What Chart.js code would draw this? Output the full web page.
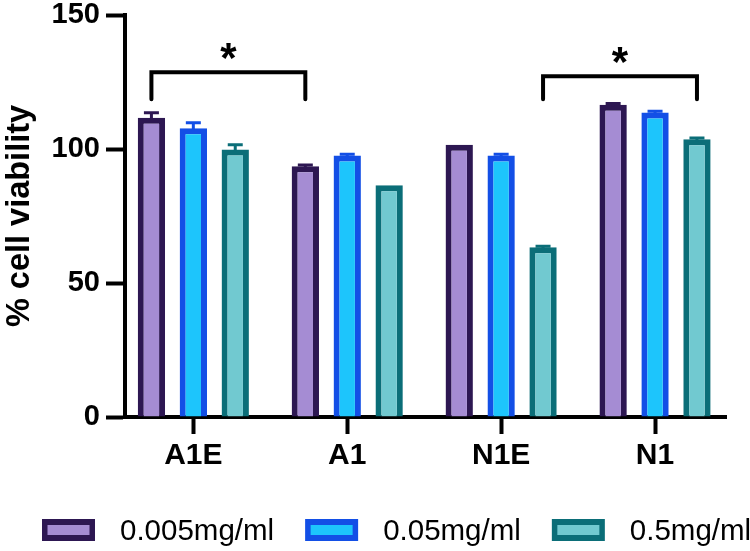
<!DOCTYPE html>
<html><head><meta charset="utf-8">
<script src="https://cdn.jsdelivr.net/npm/chart.js@4.4.1/dist/chart.umd.min.js"></script>
<style>html,body{margin:0;padding:0;background:#fff}#wrap{width:750px;height:551px}</style>
</head><body><div id="wrap"><canvas id="c" width="750" height="551"></canvas></div>
<script>
const categories = ['A1E', 'A1', 'N1E', 'N1'];
const seriesNames = ['0.005mg/ml', '0.05mg/ml', '0.5mg/ml'];
const viability005 = [111.7, 93.6, 101.6, 116.5];
const viability05 = [107.7, 97.6, 97.6, 113.6];
const viability5 = [99.8, 86.5, 63.3, 103.6];
const error005 = [1.8, 0.4, 0, 0.5];
const error05 = [2.1, 0.4, 0.4, 0.5];
const error5 = [1.8, 0, 0.4, 0.5];
const yTicks = [0, 50, 100, 150];
// significance brackets: [datasetIndex, categoryIndex]
const comparisons = [
  { from: [0, 0], to: [0, 1], level: 128.6, drop: 118.6, mark: '*', markLevel: 137.5 },
  { from: [2, 2], to: [2, 3], level: 127.1, drop: 118.6, mark: '*', markLevel: 136.2 }
];

const fills = ['#A58CD3', '#1DC5FC', '#71C9D0'];
const borders = ['#2D1752', '#134FE6', '#0B6E78'];
const seriesValues = [viability005, viability05, viability5];
const seriesErrors = [error005, error05, error5];
const FONT = "'Liberation Sans', Arial, Helvetica, sans-serif";
Chart.defaults.font.family = FONT;
Chart.defaults.color = '#000';

const errorBars = {
  id: 'errorBars',
  afterDatasetsDraw(chart) {
    const ctx = chart.ctx, ys = chart.scales.y;
    chart.data.datasets.forEach((ds, di) => {
      const meta = chart.getDatasetMeta(di);
      meta.data.forEach((el, i) => {
        const e = seriesErrors[di][i];
        if (!e) return;
        const top = ys.getPixelForValue(seriesValues[di][i] + e);
        ctx.save();
        ctx.strokeStyle = borders[di];
        ctx.lineWidth = 3;
        ctx.beginPath();
        ctx.moveTo(el.x, el.y + 2);
        ctx.lineTo(el.x, top);
        ctx.moveTo(el.x - 7.5, top);
        ctx.lineTo(el.x + 7.5, top);
        ctx.stroke();
        ctx.restore();
      });
    });
  }
};

const brackets = {
  id: 'brackets',
  afterDraw(chart) {
    const ctx = chart.ctx, ys = chart.scales.y;
    comparisons.forEach(c => {
      const x1 = chart.getDatasetMeta(c.from[0]).data[c.from[1]].x;
      const x2 = chart.getDatasetMeta(c.to[0]).data[c.to[1]].x;
      const yl = ys.getPixelForValue(c.level), yd = ys.getPixelForValue(c.drop);
      ctx.save();
      ctx.strokeStyle = '#000';
      ctx.lineWidth = 4;
      ctx.lineCap = 'round';
      ctx.lineJoin = 'miter';
      ctx.beginPath();
      ctx.moveTo(x1, yd); ctx.lineTo(x1, yl); ctx.lineTo(x2, yl); ctx.lineTo(x2, yd);
      ctx.stroke();
      const fs = 42;
      ctx.font = 'bold ' + fs + 'px ' + FONT;
      ctx.fillStyle = '#000';
      ctx.textAlign = 'center';
      ctx.textBaseline = 'alphabetic';
      ctx.fillText(c.mark, (x1 + x2) / 2, ys.getPixelForValue(c.markLevel) + fs * 0.56);
      ctx.restore();
    });
  }
};

const customLegend = {
  id: 'customLegend',
  afterDraw(chart) {
    const ctx = chart.ctx;
    const fs = 29.5;
    ctx.save();
    ctx.font = fs + 'px ' + FONT;
    ctx.textBaseline = 'alphabetic';
    ctx.textAlign = 'left';
    let x = 42;
    const top = 519, bw = 53, bh = 22;
    chart.data.datasets.forEach((ds, i) => {
      ctx.fillStyle = ds.borderColor;
      ctx.fillRect(x, top, bw, bh);
      ctx.fillStyle = ds.backgroundColor;
      ctx.fillRect(x + 5.5, top + 6, bw - 11, bh - 12);
      const tx = x + bw + 25;
      ctx.fillStyle = '#000';
      ctx.fillText(ds.label, tx, 539.5);
      x = tx + ctx.measureText(ds.label).width + 31;
    });
    ctx.restore();
  }
};

new Chart(document.getElementById('c'), {
  type: 'bar',
  data: {
    datasets: seriesNames.map((name, di) => ({
      label: name,
      data: categories.map((c, i) => ({ x: i, y: seriesValues[di][i] })),
      backgroundColor: fills[di],
      borderColor: borders[di],
      borderWidth: 6,
      borderSkipped: 'start',
      categoryPercentage: 0.817,
      barPercentage: 0.652
    }))
  },
  options: {
    responsive: false,
    animation: false,
    devicePixelRatio: 1,
    layout: { padding: { left: 0, top: 15, right: 24, bottom: 74 } },
    plugins: { legend: { display: false }, tooltip: { enabled: false } },
    scales: {
      x: {
        type: 'linear',
        offset: false,
        min: -0.444,
        max: 3.461,
        afterBuildTicks: s => { s.ticks = categories.map((c, i) => ({ value: i })); },
        afterFit: s => { s.height = 60; s.paddingLeft = 0; s.paddingRight = 0; },
        ticks: {
          autoSkip: false, maxRotation: 0, padding: 4,
          font: { size: 30, weight: 'bold' }, color: '#000',
          callback: v => categories[v]
        },
        grid: { display: true, offset: false, drawOnChartArea: false, drawTicks: true, tickLength: 17, tickWidth: 4, tickColor: '#000' },
        border: { display: true, color: '#000', width: 4 }
      },
      y: {
        min: 0, max: 150,
        afterBuildTicks: s => { s.ticks = yTicks.map(v => ({ value: v })); },
        afterFit: s => { s.width = 125; s.paddingTop = 0; s.paddingBottom = 0; },
        ticks: { padding: 6, font: { size: 29, weight: 'bold' }, color: '#000' },
        grid: { display: true, drawOnChartArea: false, drawTicks: true, tickLength: 19, tickWidth: 4, tickColor: '#000' },
        border: { display: true, color: '#000', width: 4 },
        title: { display: true, text: '% cell viability', color: '#000', font: { size: 32.5, weight: 'bold' }, padding: { top: 1, bottom: 0 } }
      }
    }
  },
  plugins: [errorBars, brackets, customLegend]
});
</script>
</body></html>
